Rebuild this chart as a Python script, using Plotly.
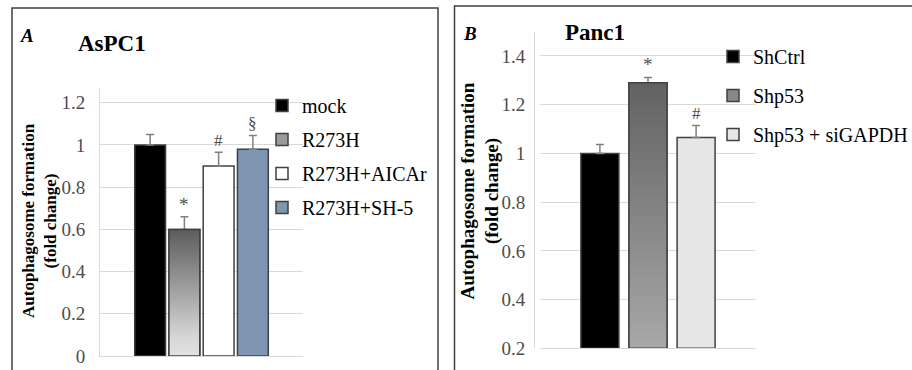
import plotly.graph_objects as go

# ---------------- data ----------------
a_groups = ["mock", "R273H", "R273H+AICAr", "R273H+SH-5"]
a_values = [1.00, 0.60, 0.90, 0.98]
a_errors = [0.05, 0.06, 0.065, 0.065]
a_marks = ["", "*", "#", "§"]
a_ticks = [0, 0.2, 0.4, 0.6, 0.8, 1.0, 1.2]
a_ticklabels = ["0", "0.2", "0.4", "0.6", "0.8", "1", "1.2"]

b_groups = ["ShCtrl", "Shp53", "Shp53 + siGAPDH"]
b_values = [1.00, 1.29, 1.065]
b_errors = [0.037, 0.022, 0.05]
b_marks = ["", "*", "#"]
b_ticks = [0.2, 0.4, 0.6, 0.8, 1.0, 1.2, 1.4]
b_ticklabels = ["0.2", "0.4", "0.6", "0.8", "1", "1.2", "1.4"]

y_title = "Autophagosome formation<br>(fold change)"

# ---------------- styles ----------------
SERIF = "Liberation Serif"
EDGE = "#404040"
GRID = "#d9d9d9"
TICKC = "#4d4d4d"
ERRC = "#808080"

a_colors = ["#000000", "#9a9a9a", "#ffffff", "#7f96b2"]
a_gradient = {1: [[0, "#e2e2e2"], [0.15, "#d6d6d6"], [0.55, "#9c9c9c"], [1, "#5c5c5c"]]}
a_width = 0.9
b_colors = ["#000000", "#888888", "#e6e6e6"]
b_gradient = {1: [[0, "#a8a8a8"], [1, "#626262"]]}
b_width = 0.79

W, H = 912, 370


def px_x(p):
    return p / W


def px_y(p):
    return 1 - p / H


fig = go.Figure()


def add_panel(groups, values, errors, marks, colors, gradients, width,
              xa, ya, legend, base):
    for i, (g, v, e) in enumerate(zip(groups, values, errors)):
        fig.add_trace(go.Bar(
            x=[i], y=[v - base], base=[base], width=width, name=g,
            marker=dict(color=colors[i], line=dict(color=EDGE, width=1.5)),
            error_y=dict(type="data", symmetric=False, array=[e], arrayminus=[0],
                         color=ERRC, thickness=1.5, width=4),
            xaxis=xa, yaxis=ya, legend=legend, legendgroup=legend + g,
            hoverinfo="skip",
        ))
        if i in gradients:
            x0, x1 = i - width / 2, i + width / 2
            fig.add_trace(go.Scatter(
                x=[x0, x1, x1, x0, x0], y=[base, base, v, v, base],
                mode="lines", fill="toself",
                fillgradient=dict(type="vertical", colorscale=gradients[i]),
                line=dict(color=EDGE, width=1.5),
                xaxis=xa, yaxis=ya, showlegend=False, hoverinfo="skip",
            ))
        if marks[i]:
            fig.add_annotation(
                x=i, y=v + e, xref=xa, yref=ya, text=marks[i], showarrow=False,
                yanchor="bottom", yshift=0,
                font=dict(family=SERIF, size=19 if marks[i] == "*" else 17, color=TICKC),
            )


add_panel(a_groups, a_values, a_errors, a_marks, a_colors, a_gradient, a_width,
          "x", "y", "legend", 0.0)
add_panel(b_groups, b_values, b_errors, b_marks, b_colors, b_gradient, b_width,
          "x2", "y2", "legend2", b_ticks[0])

tickfont = dict(family=SERIF, size=19, color=TICKC)

# panel A axes
a_slots = 203 / 34.25
fig.update_layout(
    xaxis=dict(domain=[px_x(100), px_x(303)], range=[1.5 - a_slots / 2, 1.5 + a_slots / 2],
               showticklabels=False, showgrid=False, zeroline=False, ticks="",
               showline=True, linecolor=GRID, linewidth=1, anchor="y", automargin=False),
    yaxis=dict(domain=[px_y(356), px_y(88)], range=[0, 1.27], tickvals=a_ticks,
               ticktext=a_ticklabels, showgrid=True, gridcolor=GRID, gridwidth=1,
               zeroline=False, showline=True, linecolor=GRID, linewidth=1, ticks="",
               tickfont=tickfont, ticklabelstandoff=10, anchor="x", automargin=False),
)

# panel B axes
b_slots = 216 / 48.1
fig.update_layout(
    xaxis2=dict(domain=[px_x(540), px_x(756)], range=[1 - b_slots / 2, 1 + b_slots / 2],
                showticklabels=False, showgrid=False, zeroline=False, ticks="",
                showline=True, linecolor=GRID, linewidth=1, anchor="y2", automargin=False),
    yaxis2=dict(domain=[px_y(348.3), px_y(31.6)], range=[0.2, 1.5], tickvals=b_ticks,
                ticktext=b_ticklabels, showgrid=True, gridcolor=GRID, gridwidth=1,
                zeroline=False, showline=True, linecolor=GRID, linewidth=1, ticks="",
                tickfont=tickfont, ticklabelstandoff=5, anchor="free",
                position=px_x(534), automargin=False),
)

# y-axis titles (rotated text)
fig.add_annotation(x=px_x(39), y=px_y(221), xref="paper", yref="paper", text=y_title,
                   textangle=-90, showarrow=False, xanchor="center", yanchor="middle",
                   font=dict(family=SERIF, size=17, color="#000000", weight="bold"))
fig.add_annotation(x=px_x(480.5), y=px_y(191), xref="paper", yref="paper", text=y_title,
                   textangle=-90, showarrow=False, xanchor="center", yanchor="middle",
                   font=dict(family=SERIF, size=19, color="#000000", weight="bold"))

legfont = dict(family=SERIF, size=20, color="#000000")
fig.update_layout(
    legend=dict(x=px_x(262), y=px_y(86), xanchor="left", yanchor="top",
                font=legfont, bgcolor="rgba(255,255,255,0)", borderwidth=0,
                traceorder="grouped", tracegroupgap=5, itemclick=False),
    legend2=dict(x=px_x(713), y=px_y(37), xanchor="left", yanchor="top",
                 font=legfont, bgcolor="rgba(255,255,255,0)", borderwidth=0,
                 traceorder="grouped", tracegroupgap=10, itemclick=False),
)

# white masks hiding gridlines behind the legends (above grid, below traces)
fig.add_shape(type="rect", xref="paper", yref="paper",
              x0=px_x(277), x1=px_x(306), y0=px_y(215), y1=px_y(85),
              line=dict(width=0), fillcolor="white", layer="between")
fig.add_shape(type="rect", xref="paper", yref="paper",
              x0=px_x(728), x1=px_x(760), y0=px_y(180), y1=px_y(30),
              line=dict(width=0), fillcolor="white", layer="between")

# panel frames
fig.add_shape(type="rect", xref="paper", yref="paper",
              x0=px_x(12), x1=px_x(438), y0=-0.1, y1=px_y(8),
              line=dict(color=EDGE, width=1.5), layer="below")
fig.add_shape(type="rect", xref="paper", yref="paper",
              x0=px_x(454.5), x1=1.1, y0=-0.1, y1=px_y(6),
              line=dict(color=EDGE, width=1.5), layer="below")

# panel labels and titles
fig.add_annotation(x=px_x(18), y=px_y(35), xref="paper", yref="paper", text="<b><i>A</i></b>",
                   showarrow=False, xanchor="left", yanchor="middle",
                   font=dict(family=SERIF, size=19, color="#000000"))
fig.add_annotation(x=px_x(112), y=px_y(43), xref="paper", yref="paper", text="<b>AsPC1</b>",
                   showarrow=False, xanchor="center", yanchor="middle",
                   font=dict(family=SERIF, size=23, color="#000000"))
fig.add_annotation(x=px_x(461), y=px_y(34), xref="paper", yref="paper", text="<b><i>B</i></b>",
                   showarrow=False, xanchor="left", yanchor="middle",
                   font=dict(family=SERIF, size=19, color="#000000"))
fig.add_annotation(x=px_x(594.5), y=px_y(33), xref="paper", yref="paper", text="<b>Panc1</b>",
                   showarrow=False, xanchor="center", yanchor="middle",
                   font=dict(family=SERIF, size=23, color="#000000"))

fig.update_layout(
    width=W, height=H, margin=dict(l=0, r=0, t=0, b=0, autoexpand=False),
    paper_bgcolor="white", plot_bgcolor="white",
    barmode="overlay", showlegend=True,
)

fig.write_html("out.html")
